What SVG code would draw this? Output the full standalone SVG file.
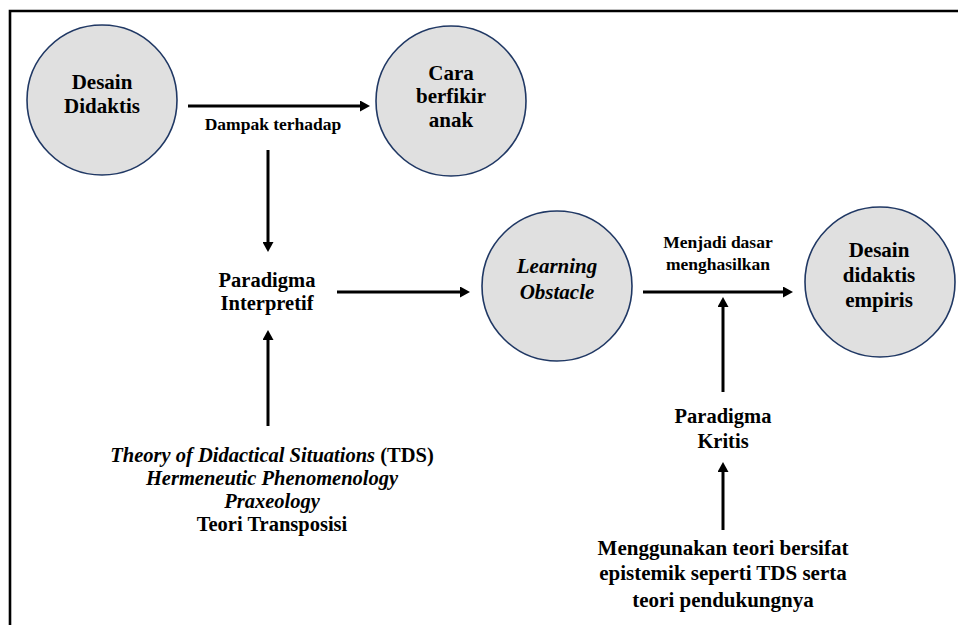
<svg xmlns="http://www.w3.org/2000/svg" width="958" height="625" viewBox="0 0 958 625" font-family="Liberation Serif, serif">
<style>
svg text.lbl{font-family:'Liberation Serif',serif !important;font-weight:bold;fill:#000;text-anchor:middle}
.node-circle{fill:#e0e0e0;stroke:#203864;stroke-width:1.6}
.fs-node{font-size:21px}
.fs-par{font-size:20.5px}
.fs-big{font-size:21px}
.fs-edge{font-size:17.5px}
.ital{font-style:italic}
.arrow{stroke:#000;stroke-width:3;fill:none;marker-end:url(#ah)}
</style>
<defs>
<marker id="ah" markerUnits="userSpaceOnUse" markerWidth="10" markerHeight="11" refX="0" refY="5.5" orient="auto">
<path d="M0,0 L10,5.5 L0,11 z" fill="#000"/>
</marker>
</defs>
<rect width="958" height="625" fill="#fff"/>
<path d="M10,625 V11 H958" fill="none" stroke="#000" stroke-width="2.6"/>
<g id="desain-didaktis">
<circle class="node-circle" cx="102" cy="100" r="75"/>
<text class="lbl fs-node" style="font-family:'Liberation Serif',serif" x="102" y="89">Desain</text>
<text class="lbl fs-node" style="font-family:'Liberation Serif',serif" x="102" y="113">Didaktis</text>
</g>
<g id="cara-berfikir">
<circle class="node-circle" cx="451" cy="101" r="75"/>
<text class="lbl fs-node" style="font-family:'Liberation Serif',serif" x="451" y="80">Cara</text>
<text class="lbl fs-node" style="font-family:'Liberation Serif',serif" x="451" y="103">berfikir</text>
<text class="lbl fs-node" style="font-family:'Liberation Serif',serif" x="451" y="127">anak</text>
</g>
<g id="learning-obstacle">
<circle class="node-circle" cx="557" cy="286" r="75"/>
<text class="lbl fs-node ital" style="font-family:'Liberation Serif',serif" x="557" y="273">Learning</text>
<text class="lbl fs-node ital" style="font-family:'Liberation Serif',serif" x="557" y="299">Obstacle</text>
</g>
<g id="desain-empiris">
<circle class="node-circle" cx="880" cy="282" r="75"/>
<text class="lbl fs-node" style="font-family:'Liberation Serif',serif" x="879" y="257">Desain</text>
<text class="lbl fs-node" style="font-family:'Liberation Serif',serif" x="879" y="282">didaktis</text>
<text class="lbl fs-node" style="font-family:'Liberation Serif',serif" x="879" y="307">empiris</text>
</g>
<g id="paradigma-interpretif">
<text class="lbl fs-par" style="font-family:'Liberation Serif',serif" x="267" y="287">Paradigma</text>
<text class="lbl fs-par" style="font-family:'Liberation Serif',serif" x="267" y="310">Interpretif</text>
</g>
<g id="teori">
<text class="lbl fs-par" style="font-family:'Liberation Serif',serif" x="272" y="462"><tspan class="ital">Theory of Didactical Situations</tspan> (TDS)</text>
<text class="lbl fs-par ital" style="font-family:'Liberation Serif',serif" x="272" y="485">Hermeneutic Phenomenology</text>
<text class="lbl fs-par ital" style="font-family:'Liberation Serif',serif" x="272" y="508">Praxeology</text>
<text class="lbl fs-par" style="font-family:'Liberation Serif',serif" x="272" y="531">Teori Transposisi</text>
</g>
<g id="paradigma-kritis">
<text class="lbl fs-par" style="font-family:'Liberation Serif',serif" x="723" y="423">Paradigma</text>
<text class="lbl fs-par" style="font-family:'Liberation Serif',serif" x="723" y="448">Kritis</text>
</g>
<g id="menggunakan">
<text class="lbl fs-big" style="font-family:'Liberation Serif',serif" x="723" y="555">Menggunakan teori bersifat</text>
<text class="lbl fs-big" style="font-family:'Liberation Serif',serif" x="723" y="580">epistemik seperti TDS serta</text>
<text class="lbl fs-big" style="font-family:'Liberation Serif',serif" x="723" y="607">teori pendukungnya</text>
</g>
<g id="connectors">
<line class="arrow" x1="188" y1="106" x2="360" y2="106"/>
<text class="lbl fs-edge" style="font-family:'Liberation Serif',serif" x="273" y="130">Dampak terhadap</text>
<line class="arrow" x1="268" y1="150" x2="268" y2="242"/>
<line class="arrow" x1="268" y1="426" x2="268" y2="340"/>
<line class="arrow" x1="337" y1="292" x2="460" y2="292"/>
<line class="arrow" x1="643" y1="292" x2="783" y2="292"/>
<text class="lbl fs-edge" style="font-family:'Liberation Serif',serif" x="718" y="248">Menjadi dasar</text>
<text class="lbl fs-edge" style="font-family:'Liberation Serif',serif" x="718" y="270">menghasilkan</text>
<line class="arrow" x1="723" y1="392" x2="723" y2="307"/>
<line class="arrow" x1="723" y1="530" x2="723" y2="472"/>
</g>
</svg>
